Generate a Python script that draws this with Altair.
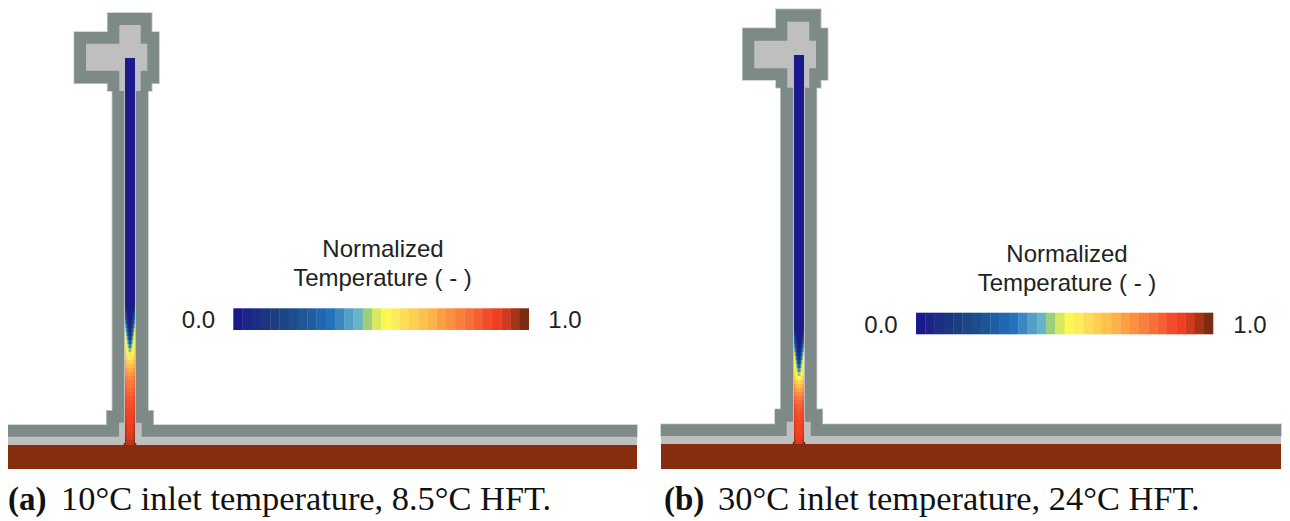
import altair as alt
import pandas as pd

GRAY = "#7e8a87"
LIGHT = "#bfbfbf"
BROWN = "#862c0f"
HALO = "#c6ccca"
INK = "#222222"

CMAP = ["#1b1a8c", "#1c2488", "#1c2e84", "#1c3682", "#1c3e80", "#1c4684", "#1d4e8c", "#1e5696",
        "#1f5ea2", "#2268b0", "#2472bc", "#3e86c2", "#52a0c8", "#68b4c6", "#9ccf7c", "#d8e860",
        "#fbf94f", "#fdec5c", "#fddd58", "#fdd053", "#fdc24e", "#fdb24a", "#fca044", "#fb9040",
        "#f97f3c", "#f77038", "#f56034", "#f24c2c", "#f03e22", "#d03a20", "#a83418", "#7c2c10"]
CMAP_DOMAIN = [i / 31 for i in range(32)]

# x0, x1, y0, y1
GRAY_A = [(107.7, 151.7, 13, 91), (74.3, 159, 32, 83.3), (112.4, 148, 90, 437),
          (106.7, 153.3, 410.7, 437), (8, 637, 425, 436.9)]
GRAY_B = [(776, 820.7, 9.3, 87.7), (742.7, 827.7, 28.3, 80), (780.8, 816.5, 87, 437),
          (775, 822.3, 409.3, 436), (661, 1281, 424.3, 436.2)]
LIGHT_A = [(119.3, 140.7, 25, 91), (86, 147.3, 43.7, 70.7), (124, 136, 90, 437),
           (119, 141.7, 422.7, 437), (8, 637, 436.7, 445.2)]
LIGHT_B = [(787.3, 809.3, 21.7, 87.7), (754.3, 816, 40.7, 68.3), (793, 805, 87, 437),
           (786.7, 810.7, 421.7, 437), (661, 1281, 436, 444.2)]
BASE_A = [(8, 637, 445, 469), (123.7, 136.3, 443, 446)]
BASE_B = [(661, 1281, 444, 469), (792.7, 805.3, 442, 445)]

# channel field: row start y, then temperature from the wall to the centre line
ROWS_A = [
    (58, .00, .00, .00, .00, .00), (300, .00, .00, .00, .00, .00), (304, .06, .00, .00, .00, .00),
    (308, .14, .04, .00, .00, .00), (312, .22, .10, .03, .00, .00), (316, .28, .16, .06, .02, .00),
    (320, .35, .22, .10, .04, .01), (324, .42, .30, .16, .07, .02), (328, .47, .37, .24, .12, .04),
    (332, .50, .43, .31, .18, .08), (336, .52, .47, .38, .26, .14), (340, .54, .50, .44, .35, .24),
    (344, .56, .52, .48, .42, .34), (348, .58, .54, .51, .47, .43), (352, .60, .56, .53, .51, .49),
    (356, .63, .60, .58, .56, .55), (360, .67, .64, .62, .61, .60), (364, .70, .67, .66, .65, .64),
    (368, .73, .71, .69, .69, .68), (372, .76, .74, .73, .72, .72), (376, .79, .77, .76, .75, .75),
    (380, .81, .79, .78, .78, .77), (384, .83, .81, .80, .80, .79), (388, .85, .83, .82, .82, .81),
    (392, .86, .85, .84, .83, .83), (396, .88, .86, .85, .85, .85), (400, .89, .87, .86, .86, .86),
    (404, .90, .88, .87, .87, .87), (408, .91, .89, .88, .88, .88), (412, .92, .90, .89, .89, .89),
    (416, .93, .91, .90, .90, .90), (420, .94, .92, .90, .90, .90), (424, .95, .93, .91, .91, .91),
    (428, .96, .94, .92, .91, .91), (432, .97, .94, .92, .92, .92), (436, .98, .95, .93, .93, .93),
    (440, .99, .96, .95, .95, .95),
]
ROWS_B = [
    (55, .00, .00, .00, .00, .00), (324, .00, .00, .00, .00, .00), (328, .06, .00, .00, .00, .00),
    (332, .14, .04, .00, .00, .00), (336, .22, .10, .03, .00, .00), (340, .29, .16, .06, .02, .00),
    (344, .36, .23, .11, .04, .01), (348, .43, .31, .17, .07, .02), (352, .48, .38, .25, .12, .04),
    (356, .51, .44, .32, .19, .08), (360, .53, .48, .39, .27, .15), (364, .55, .51, .45, .36, .25),
    (368, .57, .53, .49, .43, .36), (372, .59, .55, .52, .48, .45), (376, .62, .59, .56, .54, .52),
    (380, .68, .64, .62, .60, .59), (384, .72, .68, .66, .65, .64), (388, .76, .72, .71, .70, .69),
    (392, .80, .77, .75, .74, .74), (396, .83, .80, .79, .78, .78), (400, .86, .83, .82, .81, .81),
    (404, .88, .85, .84, .84, .83), (408, .89, .87, .86, .85, .85), (412, .90, .88, .87, .87, .86),
    (416, .91, .89, .88, .88, .87), (420, .92, .90, .89, .88, .88), (424, .93, .90, .89, .89, .89),
    (428, .94, .91, .90, .89, .89), (432, .95, .92, .90, .90, .90), (436, .96, .93, .91, .91, .91),
    (440, .98, .95, .93, .92, .92),
]
CHANNEL_A = (125, 135, 445)
CHANNEL_B = (794, 804, 444)

BAR_A = (233.3, 529, 308.3, 330)
BAR_B = (916, 1213.3, 312.7, 334.3)

LABELS = [
    ("Normalized", 383, 257, "center"), ("Temperature ( - )", 382.5, 286, "center"),
    ("0.0", 198.5, 328, "center"), ("1.0", 565, 328, "center"),
    ("Normalized", 1067, 262, "center"), ("Temperature ( - )", 1067, 291, "center"),
    ("0.0", 881, 332.5, "center"), ("1.0", 1250, 332.5, "center"),
]
CAP_BOLD = [("(a)", 8, 510), ("(b)", 664, 510)]
CAP_TEXT = [("10°C inlet temperature, 8.5°C HFT.", 61, 510), ("30°C inlet temperature, 24°C HFT.", 718, 510)]

xs = alt.Scale(domain=[8, 1282], nice=False, zero=False)
ys = alt.Scale(domain=[519, 8], nice=False, zero=False)


def frame(rects):
    return pd.DataFrame(rects, columns=["x0", "x1", "y0", "y1"])


def enc(color=None):
    e = dict(x=alt.X("x0:Q", scale=xs, axis=None), x2="x1:Q",
             y=alt.Y("y0:Q", scale=ys, axis=None), y2="y1:Q")
    if color:
        e["color"] = alt.value(color)
    return e


def field(rows, channel):
    left, right, bottom = channel
    n = 5
    width = (right - left) / (2 * n)
    out = []
    for i, row in enumerate(rows):
        y0 = row[0]
        y1 = rows[i + 1][0] if i + 1 < len(rows) else bottom
        for j, t in enumerate(row[1:]):
            out.append(dict(x0=left + j * width, x1=left + (j + 1) * width, y0=y0, y1=y1, t=t))
            out.append(dict(x0=right - (j + 1) * width, x1=right - j * width, y0=y0, y1=y1, t=t))
    return pd.DataFrame(out)


def colorbar(bar):
    x0, x1, y0, y1 = bar
    w = (x1 - x0) / len(CMAP)
    return pd.DataFrame([dict(x0=x0 + i * w, x1=x0 + (i + 1) * w + 0.3 * (i < 31), y0=y0, y1=y1, t=CMAP_DOMAIN[i])
                         for i in range(len(CMAP))])


temp = alt.Color("t:Q", legend=None,
                 scale=alt.Scale(domain=CMAP_DOMAIN, range=CMAP, interpolate="rgb"))


def text_layer(items, font, size, weight="normal", align="left", color=INK):
    df = pd.DataFrame(items).iloc[:, :3]
    df.columns = ["label", "x", "y"]
    return alt.Chart(df).mark_text(font=font, fontSize=size, fontWeight=weight, align=align,
                                   baseline="alphabetic", color=color).encode(
        x=alt.X("x:Q", scale=xs, axis=None), y=alt.Y("y:Q", scale=ys, axis=None), text="label:N")


gray = frame(GRAY_A + GRAY_B)
layers = [
    alt.Chart(gray).mark_rect(stroke=HALO, strokeWidth=1.6).encode(**enc(HALO)),
    alt.Chart(gray).mark_rect().encode(**enc(GRAY)),
    alt.Chart(frame(LIGHT_A + LIGHT_B)).mark_rect().encode(**enc(LIGHT)),
    alt.Chart(frame(BASE_A + BASE_B)).mark_rect().encode(**enc(BROWN)),
    alt.Chart(field(ROWS_A, CHANNEL_A)).mark_rect().encode(color=temp, **enc()),
    alt.Chart(field(ROWS_B, CHANNEL_B)).mark_rect().encode(color=temp, **enc()),
    alt.Chart(colorbar(BAR_A)).mark_rect().encode(color=temp, **enc()),
    alt.Chart(colorbar(BAR_B)).mark_rect().encode(color=temp, **enc()),
    text_layer(LABELS, "Liberation Sans", 24, align="center"),
    text_layer(CAP_BOLD, "Liberation Serif", 33, weight="bold", color="#111111"),
    text_layer(CAP_TEXT, "Liberation Serif", 34.4, color="#111111"),
]

chart = alt.layer(*layers).resolve_scale(color="shared").properties(
    width=1274, height=511, padding=0, autosize=alt.AutoSizeParams(type="none"),
    background="white",
).configure_view(stroke=None)

chart.save("out.html", embed_options={"renderer": "svg", "actions": False})
